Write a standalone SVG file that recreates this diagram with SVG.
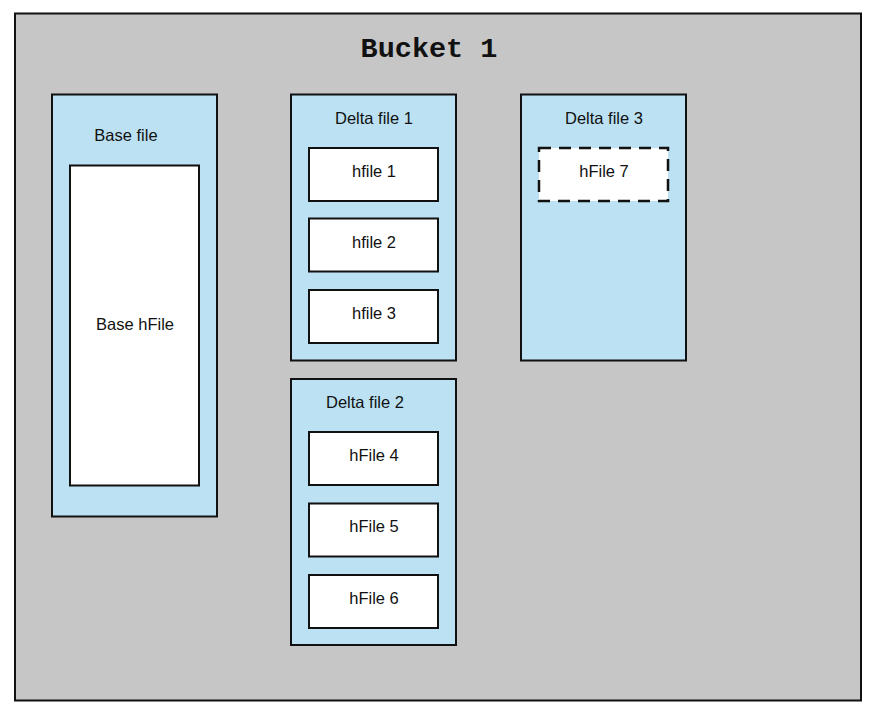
<svg xmlns="http://www.w3.org/2000/svg" width="875" height="726" viewBox="0 0 875 726">
<style>
.bucket{fill:#c6c6c6;stroke:#111;stroke-width:2}
.cont{fill:#bbe1f2;stroke:#111;stroke-width:2}
.file{fill:#fff;stroke:#111;stroke-width:2}
.dash{fill:#fff;stroke:#111;stroke-width:2.5;stroke-dasharray:12 8}
text{font-family:"Liberation Sans",Arial,sans-serif;font-size:16.5px;fill:#111;text-anchor:middle}
.title{font-family:"Liberation Mono","Courier New",monospace;font-size:28.5px;font-weight:bold}
</style>
<rect width="875" height="726" fill="#fff"/>
<g id="bucket1">
<rect class="bucket" x="15" y="13.5" width="846" height="687"/>
<text class="title" x="429" y="57">Bucket 1</text>
</g>
<g id="basefile">
<rect class="cont" x="52" y="94.5" width="165" height="422"/>
<text x="126" y="141">Base file</text>
</g>
<g id="basehfile">
<rect class="file" x="70" y="165.5" width="129" height="320"/>
<text x="135" y="330">Base hFile</text>
</g>
<g id="deltafile1">
<rect class="cont" x="291" y="94.5" width="165" height="266"/>
<text x="374" y="124">Delta file 1</text>
</g>
<g id="hfile1"><rect class="file" x="309" y="148" width="129" height="53"/><text x="374" y="177">hfile 1</text></g>
<g id="hfile2"><rect class="file" x="309" y="218.5" width="129" height="53"/><text x="374" y="248">hfile 2</text></g>
<g id="hfile3"><rect class="file" x="309" y="290" width="129" height="53"/><text x="374" y="319">hfile 3</text></g>
<g id="deltafile2">
<rect class="cont" x="291" y="379" width="165" height="266"/>
<text x="365" y="408">Delta file 2</text>
</g>
<g id="hfile4"><rect class="file" x="309" y="432" width="129" height="53"/><text x="374" y="461">hFile 4</text></g>
<g id="hfile5"><rect class="file" x="309" y="503.5" width="129" height="53"/><text x="374" y="532">hFile 5</text></g>
<g id="hfile6"><rect class="file" x="309" y="575" width="129" height="53"/><text x="374" y="604">hFile 6</text></g>
<g id="deltafile3">
<rect class="cont" x="521" y="94.5" width="165" height="266"/>
<text x="604" y="124">Delta file 3</text>
</g>
<g id="hfile7"><rect class="dash" x="539" y="148" width="129" height="53"/><text x="604" y="177">hFile 7</text></g>
<g id="connectors"></g>
</svg>
